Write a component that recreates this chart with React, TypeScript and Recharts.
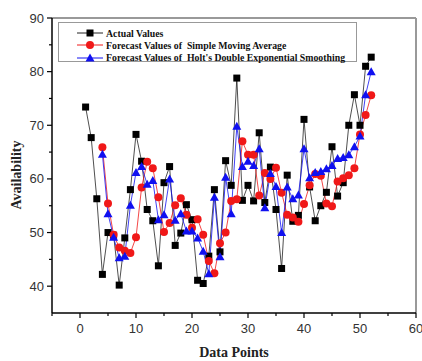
import React from 'react';
import { LineChart, Line, XAxis, YAxis, Legend, Label, ReferenceLine } from 'recharts';

const points = [1,2,3,4,5,6,7,8,9,10,11,12,13,14,15,16,17,18,19,20,21,22,23,24,25,26,27,28,29,30,31,32,33,34,35,36,37,38,39,40,41,42,43,44,45,46,47,48,49,50,51,52];
const actualValues = [73.4,67.7,56.3,42.2,50.0,49.5,40.2,49.0,58.0,68.3,63.3,54.3,52.2,43.8,59.3,62.3,47.6,49.9,55.2,52.4,41.1,40.5,45.6,58.0,46.4,63.4,58.8,78.8,56.0,58.8,55.9,68.6,55.6,62.2,54.3,43.3,60.7,52.1,53.2,71.1,58.5,52.2,55.0,57.5,66.0,56.8,59.3,70.0,75.7,70.0,81.0,82.7];
const smaValues = [null,null,null,65.9,55.4,49.6,47.2,46.6,46.2,49.1,58.4,63.2,62.0,56.6,50.1,51.8,55.1,56.4,53.3,50.9,52.5,49.6,44.7,42.4,48.0,50.0,55.9,56.2,67.0,64.5,64.5,56.9,61.1,60.0,62.1,57.4,53.3,52.8,52.0,55.3,58.8,60.9,60.6,55.4,54.9,59.5,60.1,60.7,62.0,68.3,71.9,75.6];
const holtValues = [null,null,null,64.6,53.5,49.1,45.3,45.6,55.1,61.2,62.3,59.0,59.7,52.4,53.3,60.0,52.3,53.5,50.3,50.3,49.0,46.5,42.3,56.6,45.5,60.3,53.5,69.8,62.3,63.3,62.5,65.6,54.6,61.0,58.6,50.0,58.5,56.3,57.0,65.6,60.2,61.2,61.4,61.9,62.5,63.8,64.0,64.5,66.0,68.0,75.7,80.0];
const seriesNames = ['Actual Values', 'Forecast Values of  Simple Moving Average', "Forecast Values of  Holt's Double Exponential Smoothing"];
const xTicks = [-5,0,5,10,15,20,25,30,35,40,45,50,55,60];
const yTicks = [35,40,45,50,55,60,65,70,75,80,85,90];
const xMax = 60;
const yMax = 90;

const data = points.map((x, i) => ({ x, actual: actualValues[i], sma: smaValues[i], holt: holtValues[i] }));

const RED = '#f01818';
const BLUE = '#1010f0';

const SquareDot = (p: any) => {
  const { cx, cy, index } = p;
  if (cx == null || cy == null) return <g key={`s${index}`} />;
  return <rect key={`s${index}`} x={cx - 3.5} y={cy - 3.5} width={7} height={7} fill="#000" />;
};
const CircleDot = (p: any) => {
  const { cx, cy, index } = p;
  if (cx == null || cy == null) return <g key={`c${index}`} />;
  return <circle key={`c${index}`} cx={cx} cy={cy} r={4} fill={RED} />;
};
const TriDot = (p: any) => {
  const { cx, cy, index } = p;
  if (cx == null || cy == null) return <g key={`t${index}`} />;
  return <polygon key={`t${index}`} points={`${cx},${cy - 4.5} ${cx + 4.5},${cy + 3.5} ${cx - 4.5},${cy + 3.5}`} fill={BLUE} />;
};

const XTick = (p: any) => {
  const { x, y, payload } = p;
  const v = payload.value;
  const major = v % 10 === 0;
  return (
    <g>
      <line x1={x} y1={y} x2={x} y2={y + (major ? 5 : 3)} stroke="#000" strokeWidth={1.2} />
      {major && v >= 0 ? (
        <text x={x} y={y + 20} textAnchor="middle" fontFamily="Liberation Sans, Arial" fontSize={13} fill="#333">{v}</text>
      ) : null}
    </g>
  );
};
const YTick = (p: any) => {
  const { x, y, payload } = p;
  const v = payload.value;
  const major = v % 10 === 0;
  if (v === 35) return <g />;
  return (
    <g>
      <line x1={x} y1={y} x2={x - (major ? 5 : 3)} y2={y} stroke="#000" strokeWidth={1.2} />
      {major ? (
        <text x={x - 8} y={y + 4.5} textAnchor="end" fontFamily="Liberation Sans, Arial" fontSize={13} fill="#333">{v}</text>
      ) : null}
    </g>
  );
};

const LegendMarker = ({ kind }: { kind: number }) => (
  <svg width={30} height={10} style={{ display: 'block' }}>
    <line x1={2} y1={5} x2={28} y2={5} stroke={kind === 0 ? '#222' : kind === 1 ? RED : BLUE} strokeWidth={1} />
    {kind === 0 && <rect x={11.5} y={1.5} width={7} height={7} fill="#000" />}
    {kind === 1 && <circle cx={15} cy={5} r={4} fill={RED} />}
    {kind === 2 && <polygon points="15,0.5 19.5,8.5 10.5,8.5" fill={BLUE} />}
  </svg>
);

const renderLegend = () => (
  <div style={{ width: 299, height: 40, border: '1px solid #999', boxSizing: 'border-box', paddingTop: 4 }}>
    {seriesNames.map((name, i) => (
      <div key={name} style={{ display: 'flex', alignItems: 'center', height: 12.3, marginLeft: 16 }}>
        <LegendMarker kind={i} />
        <span style={{ fontFamily: 'Liberation Serif, Times New Roman', fontWeight: 'bold', fontSize: 9.8, color: '#111', marginLeft: 1, whiteSpace: 'pre' }}>{name}</span>
      </div>
    ))}
  </div>
);

export default function App() {
  return (
    <div style={{ position: 'absolute', left: 0, top: 0, background: '#fff' }}>
      <LineChart width={422} height={361} data={data} margin={{ top: 18, right: 6, bottom: 0, left: 0 }}>
        <XAxis dataKey="x" type="number" domain={[-5, 60]} ticks={xTicks} interval={0} height={48}
          tickSize={0} tickMargin={0} tickLine={false} tick={<XTick />}
          axisLine={{ stroke: '#000', strokeWidth: 1.5 }}>
          <Label content={() => (
            <text x={234} y={357} textAnchor="middle" fontFamily="Liberation Serif, Times New Roman" fontWeight="bold" fontSize={14} fill="#222">Data Points</text>
          )} />
        </XAxis>
        <YAxis type="number" domain={[35, 90]} ticks={yTicks} interval={0} width={52}
          tickSize={0} tickMargin={0} tickLine={false} tick={<YTick />}
          axisLine={{ stroke: '#000', strokeWidth: 1.5 }}>
          <Label content={() => (
            <text x={16} y={175} transform="rotate(-90,16,175)" textAnchor="middle" dominantBaseline="central" fontFamily="Liberation Serif, Times New Roman" fontWeight="bold" fontSize={14} fill="#222">Availability</text>
          )} />
        </YAxis>
        <ReferenceLine y={yMax} stroke="#999" strokeWidth={2} ifOverflow="visible" />
        <ReferenceLine x={xMax} stroke="#999" strokeWidth={2} ifOverflow="visible" />
        <Legend layout="horizontal" verticalAlign="middle" align="center" content={renderLegend}
          wrapperStyle={{ position: 'absolute', left: 58, top: 22, width: 299, height: 40 }} />
        <Line dataKey="actual" name={seriesNames[0]} stroke="#222" strokeWidth={0.8} dot={SquareDot} isAnimationActive={false} />
        <Line dataKey="sma" name={seriesNames[1]} stroke={RED} strokeWidth={0.8} dot={CircleDot} isAnimationActive={false} />
        <Line dataKey="holt" name={seriesNames[2]} stroke={BLUE} strokeWidth={0.8} dot={TriDot} isAnimationActive={false} />
      </LineChart>
    </div>
  );
}
